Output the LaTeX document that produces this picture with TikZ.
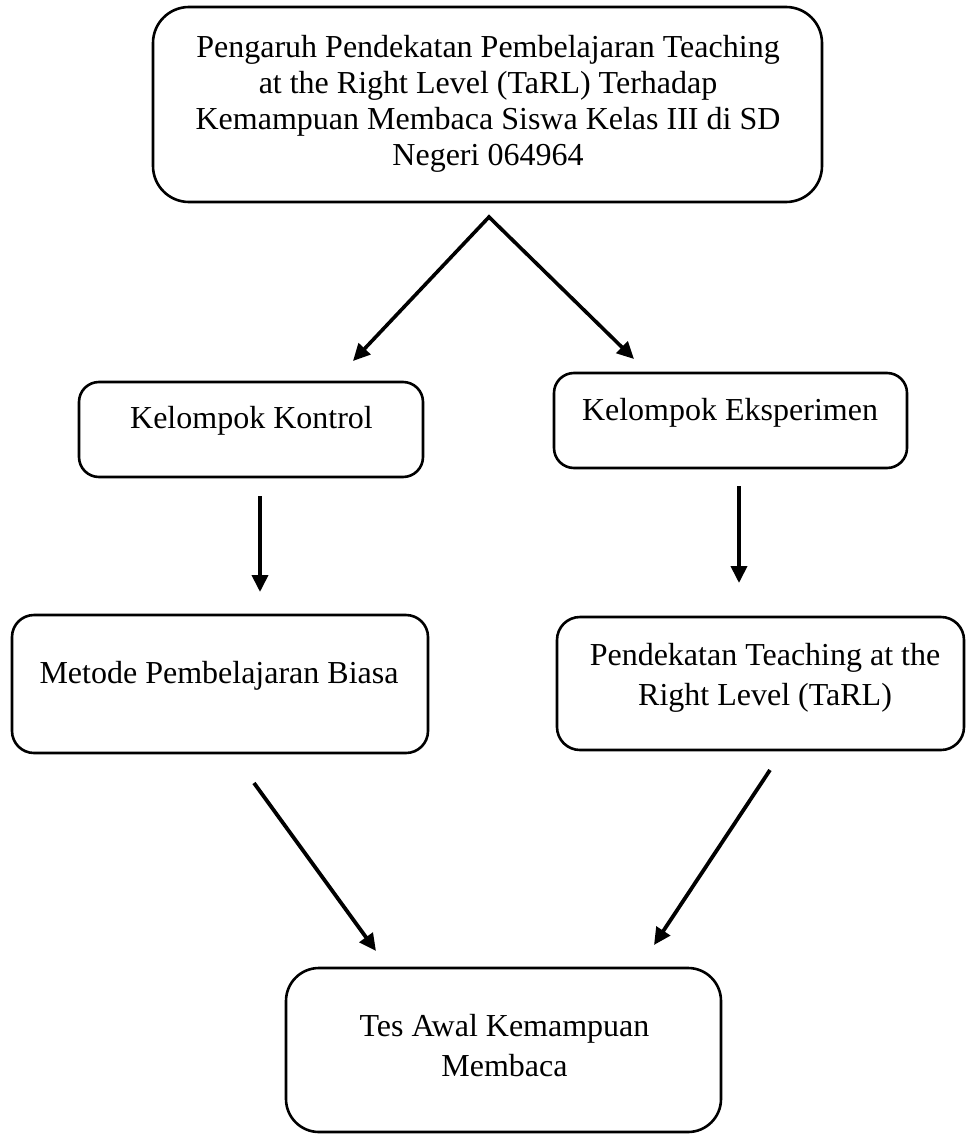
\documentclass[tikz,border=0pt]{standalone}
\usepackage{fontspec}
\setmainfont{Liberation Serif}
\usetikzlibrary{arrows.meta}
\begin{document}
\begin{tikzpicture}[x=1pt,y=-1pt,
  box/.style={draw, line width=2.6pt, inner sep=0pt, outer sep=0pt},
  lbl/.style={font=\fontsize{32}{36}\selectfont, align=center, inner sep=0pt},
  lbltwo/.style={font=\fontsize{32}{40}\selectfont, align=center, inner sep=0pt},
  arr/.style={line width=3.8pt, -{Triangle[length=17pt,width=16pt]}},
  arrtwo/.style={line width=3.6pt, {Triangle[length=17pt,width=16pt]}-{Triangle[length=17pt,width=16pt]}}]
\useasboundingbox (0,0) rectangle (967,1135);
% boxes
\node[box, rounded corners=36pt, minimum width=669pt, minimum height=195pt] (topbox) at (487.5,104.5) {};
\node[box, rounded corners=20pt, minimum width=344pt, minimum height=95pt] (kontrol) at (251,429.5) {};
\node[box, rounded corners=20pt, minimum width=353pt, minimum height=95pt] (eksp) at (730.5,420.5) {};
\node[box, rounded corners=22pt, minimum width=416pt, minimum height=138pt] (metode) at (220,684) {};
\node[box, rounded corners=23pt, minimum width=407pt, minimum height=133pt] (tarl) at (760.5,683.5) {};
\node[box, rounded corners=33pt, minimum width=435pt, minimum height=164pt] (tes) at (503.5,1050) {};
% texts
\node[lbl] (toptext) at (488,103.5) {Pengaruh Pendekatan Pembelajaran Teaching\\at the Right Level (TaRL) Terhadap\\Kemampuan Membaca Siswa Kelas III di SD\\Negeri 064964};
\node[lbl] (kontroltext) at (251.5,420.5) {Kelompok Kontrol};
\node[lbl] (eksptext) at (730,412.5) {Kelompok Eksperimen};
\node[lbl] (metodetext) at (219,675.5) {Metode Pembelajaran Biasa};
\node[lbltwo] (tarltext) at (765,677.5) {Pendekatan Teaching at the\\Right Level (TaRL)};
\node[lbltwo] (testext) at (504.5,1045.5) {Tes Awal Kemampuan\\Membaca};
% arrow end points
\coordinate (apex) at (489,217);
\coordinate (k1) at (353,361);
\coordinate (e1) at (634,359);
\coordinate (k2s) at (260,496);
\coordinate (k2e) at (260,592);
\coordinate (e2s) at (739,486);
\coordinate (e2e) at (739,583);
\coordinate (m3s) at (254,783);
\coordinate (m3e) at (376,951);
\coordinate (t3s) at (770,770);
\coordinate (t3e) at (654,945);
% arrows
\draw[arrtwo] (k1) -- (apex) -- (e1);
\draw[arr] (k2s) -- (k2e);
\draw[arr] (e2s) -- (e2e);
\draw[arr] (m3s) -- (m3e);
\draw[arr] (t3s) -- (t3e);
\end{tikzpicture}
\end{document}
